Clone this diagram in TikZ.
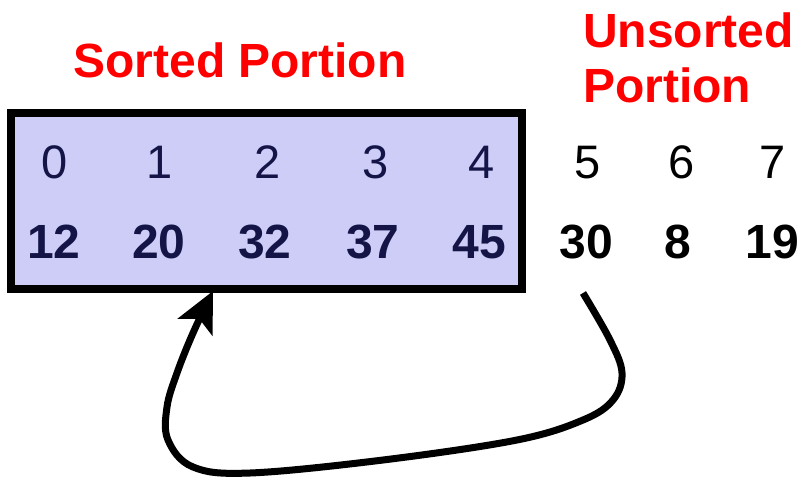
\documentclass[tikz,border=0pt]{standalone}
\usepackage{fontspec}
\setmainfont{Liberation Sans}
\usetikzlibrary{arrows.meta}
\definecolor{boxfill}{RGB}{205,205,248}
\definecolor{navy}{RGB}{20,20,70}
\definecolor{titlered}{RGB}{255,0,0}
\begin{document}
\begin{tikzpicture}[x=1pt,y=-1pt,
  title/.style={text=titlered,font=\fontsize{48}{57}\selectfont\bfseries,inner sep=0pt},
  idx/.style={anchor=base,inner sep=0pt,font=\fontsize{47}{57}\selectfont},
  val/.style={anchor=base,inner sep=0pt,font=\fontsize{48}{57}\selectfont\bfseries},
  inbox/.style={text=navy},
  connector/.style={line width=7pt,line cap=butt,-{Stealth[length=40pt,width=38pt,inset=9pt]}}]
\useasboundingbox (0,0) rectangle (802,479);
% sorted box
\draw[line width=8pt,fill=boxfill] (11,113) rectangle (522,289);
% titles
\node[title,anchor=base] (sorted) at (240,77) {Sorted Portion};
\node[title,anchor=base west] (unsorted1) at (583,47) {Unsorted};
\node[title,anchor=base west] (unsorted2) at (583,102) {Portion};
% indices
\node[idx,inbox] (i0) at (55,178) {0};
\node[idx,inbox] (i1) at (160,178) {1};
\node[idx,inbox] (i2) at (268,178) {2};
\node[idx,inbox] (i3) at (376,178) {3};
\node[idx,inbox] (i4) at (482,178) {4};
\node[idx] (i5) at (588,178) {5};
\node[idx] (i6) at (682,178) {6};
\node[idx] (i7) at (773,178) {7};
% values
\node[val,inbox] (v0) at (54,258) {12};
\node[val,inbox] (v1) at (159,258) {20};
\node[val,inbox] (v2) at (265,258) {32};
\node[val,inbox] (v3) at (373,258) {37};
\node[val,inbox] (v4) at (479,258) {45};
\node[val] (v5) at (586,258) {30};
\node[val] (v6) at (678,258) {8};
\node[val] (v7) at (772,258) {19};
% arrow
\coordinate (s) at (583,293);
\coordinate (e) at (213,291);
\draw[connector] plot[smooth,tension=0.6] coordinates {(s) (610,340) (622,373) (613,400) (583,420) (517,440) (383,460) (250,473) (193,467) (168,440) (167,407) (177,373) (193,333) (e)};
\end{tikzpicture}
\end{document}
